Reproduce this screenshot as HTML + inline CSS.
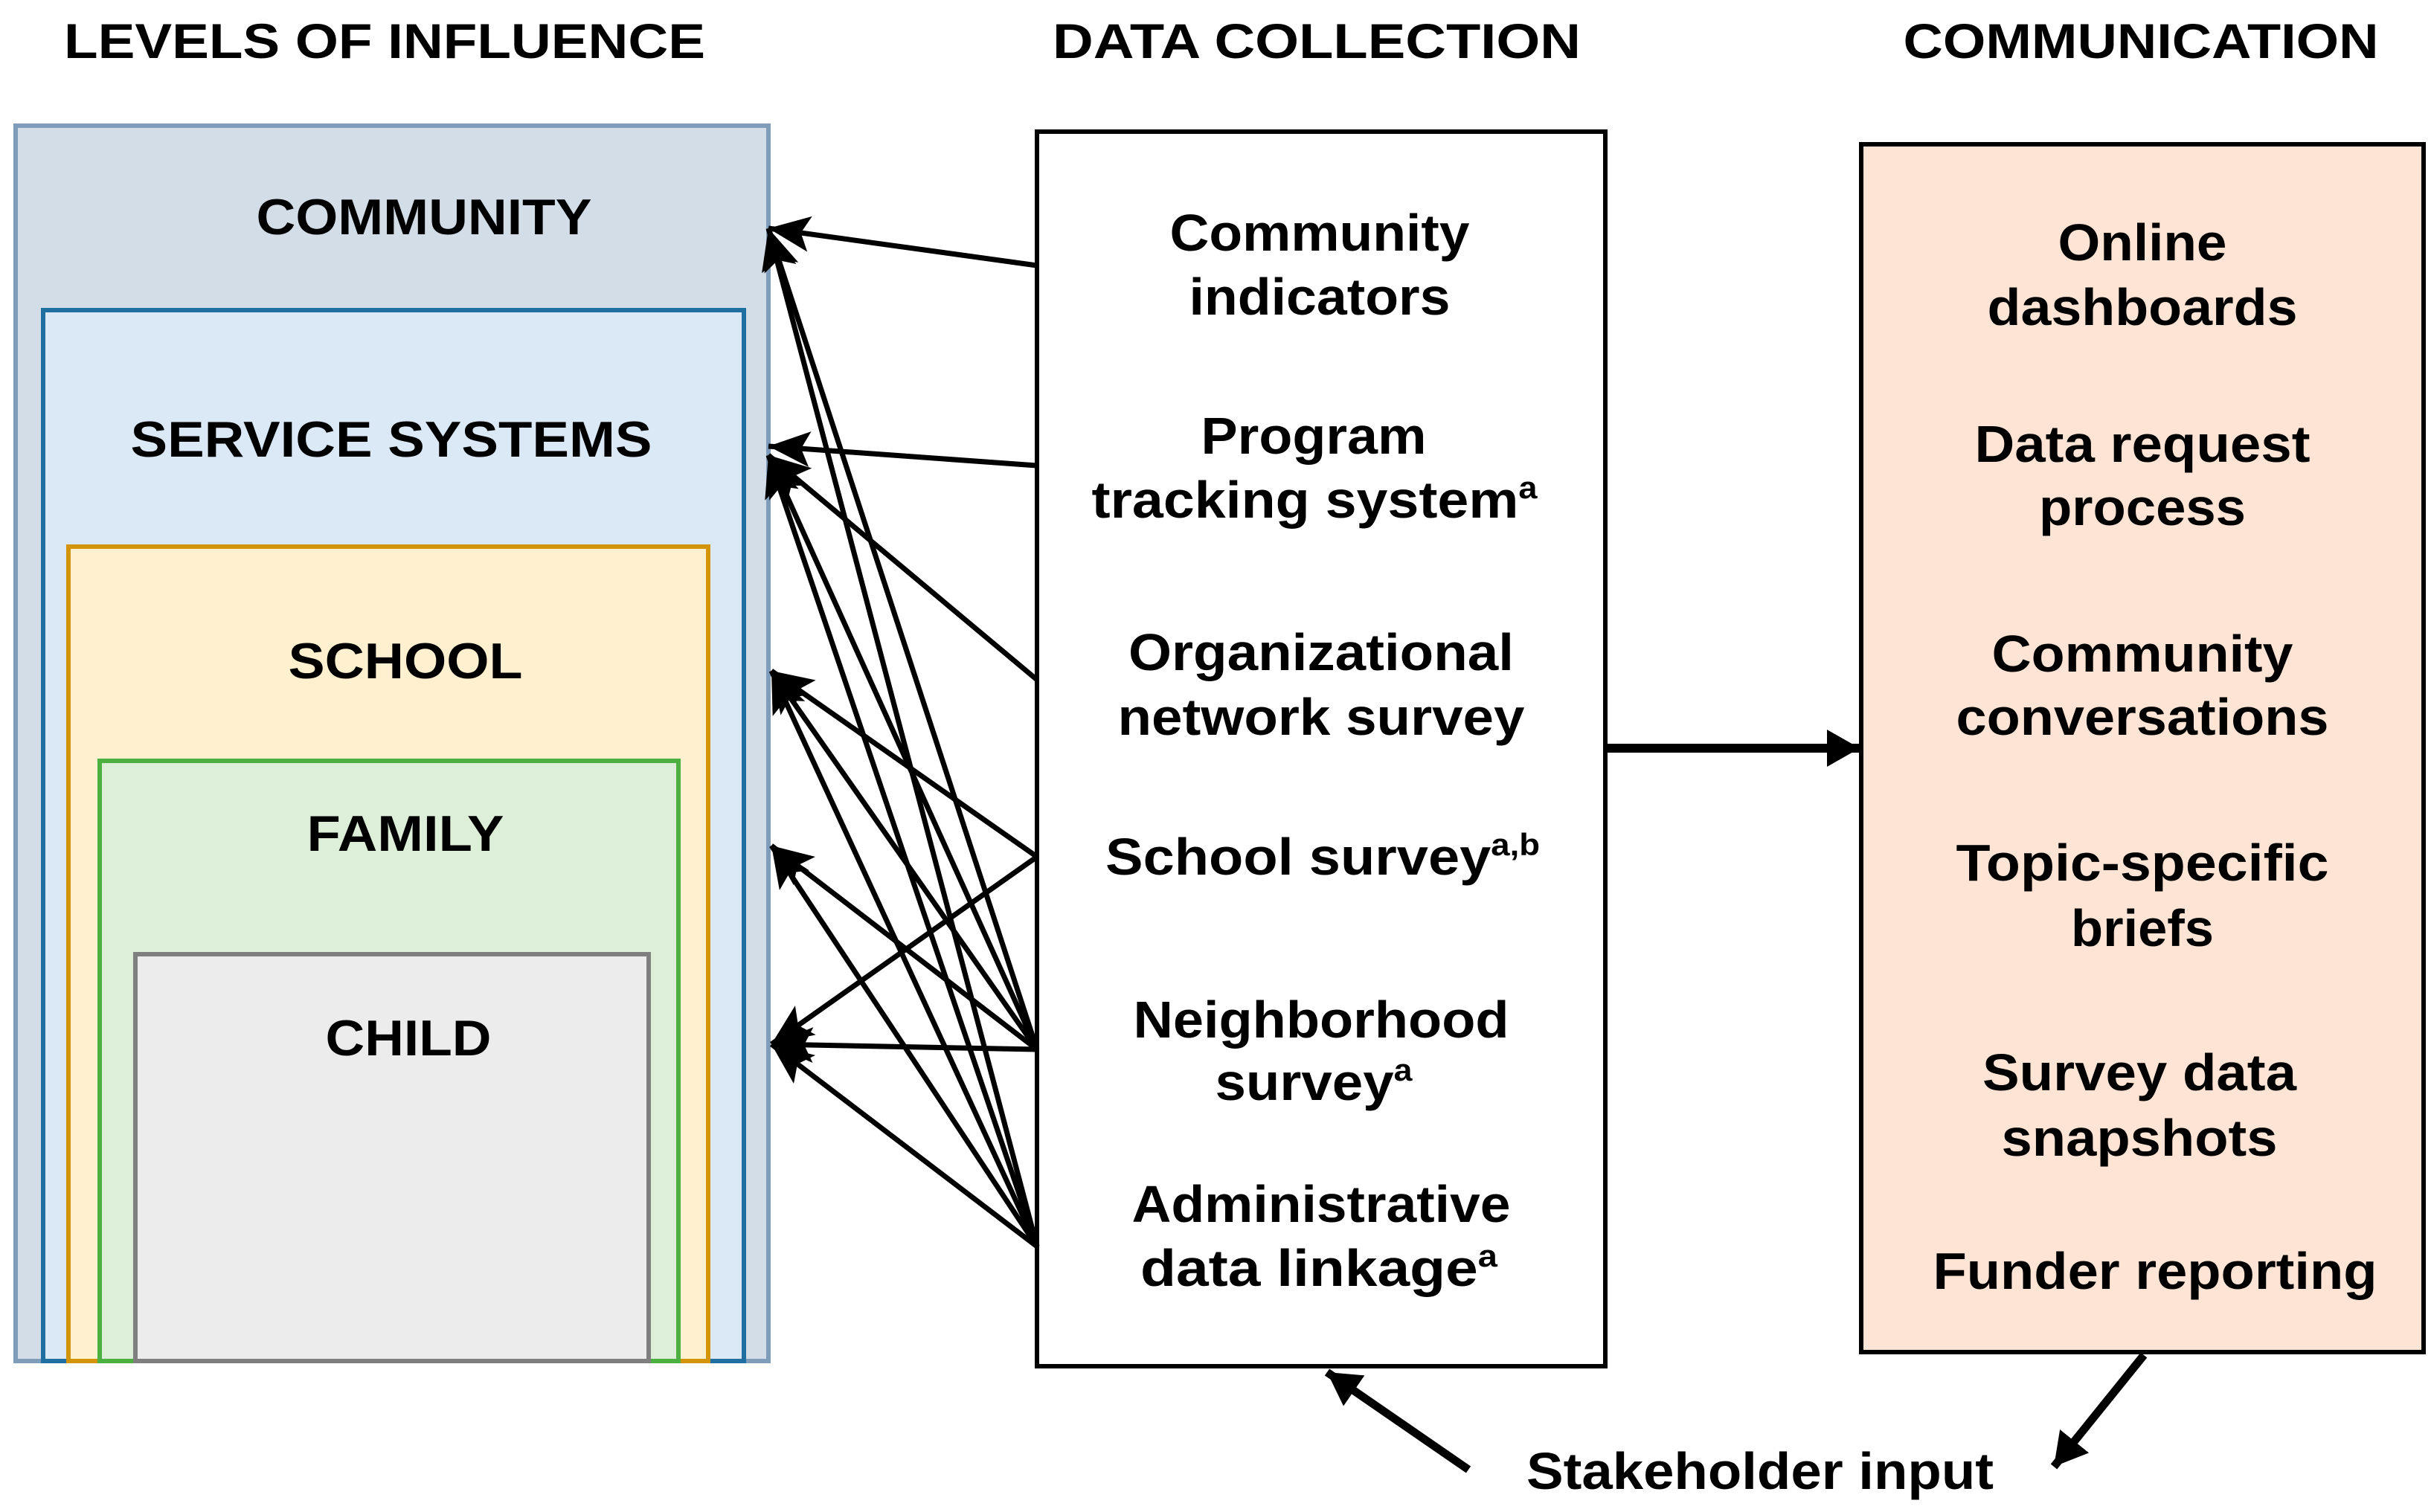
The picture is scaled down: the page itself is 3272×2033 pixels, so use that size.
<!DOCTYPE html>
<html><head><meta charset="utf-8"><style>
html,body{margin:0;padding:0;background:#fff;}
svg{display:block;}
text{font-family:"Liberation Sans",Arial,sans-serif;font-weight:bold;fill:#000;}
</style></head><body>
<svg width="3272" height="2033" viewBox="0 0 3272 2033" xmlns="http://www.w3.org/2000/svg">
<defs>
<marker id="ah" markerUnits="userSpaceOnUse" markerWidth="70" markerHeight="60" refX="56" refY="24" orient="auto">
<path d="M0,0 L56,24 L0,48 L12,24 Z" fill="#000"/>
</marker>
<marker id="ah2" markerUnits="userSpaceOnUse" markerWidth="60" markerHeight="60" refX="44" refY="25" orient="auto">
<path d="M0,0 L44,25 L0,50 Z" fill="#000"/>
</marker>
</defs>
<g text-anchor="middle" font-size="66">
<text x="517" y="78" textLength="862" lengthAdjust="spacingAndGlyphs">LEVELS OF INFLUENCE</text>
<text x="1770" y="78" textLength="710" lengthAdjust="spacingAndGlyphs">DATA COLLECTION</text>
<text x="2878" y="78" textLength="639" lengthAdjust="spacingAndGlyphs">COMMUNICATION</text>
</g>
<rect x="21" y="169" width="1012" height="1661" fill="#d3dde8" stroke="#7f9dbb" stroke-width="6"/>
<rect x="58" y="417" width="942" height="1413" fill="#dbe9f6" stroke="#1f6fa0" stroke-width="6"/>
<rect x="92" y="735" width="860" height="1095" fill="#fff1cf" stroke="#d4940a" stroke-width="6"/>
<rect x="134" y="1023" width="778" height="807" fill="#deefd9" stroke="#4cb040" stroke-width="6"/>
<rect x="182" y="1283" width="690" height="547" fill="#ececec" stroke="#7f7f7f" stroke-width="6"/>
<g text-anchor="middle" font-size="68">
<text x="570" y="315" textLength="451" lengthAdjust="spacingAndGlyphs">COMMUNITY</text>
<text x="526" y="614" textLength="701" lengthAdjust="spacingAndGlyphs">SERVICE SYSTEMS</text>
<text x="545" y="912" textLength="315" lengthAdjust="spacingAndGlyphs">SCHOOL</text>
<text x="545" y="1144" textLength="265" lengthAdjust="spacingAndGlyphs">FAMILY</text>
<text x="549" y="1419" textLength="223" lengthAdjust="spacingAndGlyphs">CHILD</text>
</g>
<rect x="1394" y="177" width="764" height="1660" fill="#fff" stroke="#000" stroke-width="6"/>
<g text-anchor="middle" font-size="70">
<text x="1774" y="337" textLength="403" lengthAdjust="spacingAndGlyphs">Community</text>
<text x="1774" y="423" textLength="351" lengthAdjust="spacingAndGlyphs">indicators</text>
<text x="1766" y="610" textLength="303" lengthAdjust="spacingAndGlyphs">Program</text>
<text x="1767" y="696" textLength="599" lengthAdjust="spacingAndGlyphs">tracking system<tspan font-size="42" dy="-26">a</tspan></text>
<text x="1776" y="901" textLength="518" lengthAdjust="spacingAndGlyphs">Organizational</text>
<text x="1776" y="988" textLength="547" lengthAdjust="spacingAndGlyphs">network survey</text>
<text x="1778" y="1176" textLength="584" lengthAdjust="spacingAndGlyphs">School survey<tspan font-size="42" dy="-26">a,b</tspan></text>
<text x="1776" y="1395" textLength="505" lengthAdjust="spacingAndGlyphs">Neighborhood</text>
<text x="1766" y="1479" textLength="265" lengthAdjust="spacingAndGlyphs">survey<tspan font-size="42" dy="-26">a</tspan></text>
<text x="1776" y="1643" textLength="509" lengthAdjust="spacingAndGlyphs">Administrative</text>
<text x="1773" y="1729" textLength="480" lengthAdjust="spacingAndGlyphs">data linkage<tspan font-size="42" dy="-26">a</tspan></text>
</g>
<rect x="2502" y="194" width="756" height="1624" fill="#fde4d4" stroke="#000" stroke-width="6"/>
<g text-anchor="middle" font-size="70">
<text x="2880" y="350" textLength="227" lengthAdjust="spacingAndGlyphs">Online</text>
<text x="2880" y="437" textLength="417" lengthAdjust="spacingAndGlyphs">dashboards</text>
<text x="2880" y="621" textLength="451" lengthAdjust="spacingAndGlyphs">Data request</text>
<text x="2880" y="706" textLength="278" lengthAdjust="spacingAndGlyphs">process</text>
<text x="2880" y="903" textLength="405" lengthAdjust="spacingAndGlyphs">Community</text>
<text x="2880" y="988" textLength="501" lengthAdjust="spacingAndGlyphs">conversations</text>
<text x="2880" y="1184" textLength="501" lengthAdjust="spacingAndGlyphs">Topic-specific</text>
<text x="2880" y="1272" textLength="192" lengthAdjust="spacingAndGlyphs">briefs</text>
<text x="2876" y="1466" textLength="422" lengthAdjust="spacingAndGlyphs">Survey data</text>
<text x="2876" y="1554" textLength="371" lengthAdjust="spacingAndGlyphs">snapshots</text>
<text x="2897" y="1733" textLength="597" lengthAdjust="spacingAndGlyphs">Funder reporting</text>
</g>
<g stroke="#000" stroke-width="7" fill="none" marker-end="url(#ah)">
<line x1="1394" y1="357" x2="1033" y2="307"/>
<line x1="1394" y1="626" x2="1033" y2="600"/>
<line x1="1394" y1="914" x2="1033" y2="612"/>
<line x1="1394" y1="1152" x2="1037" y2="902"/>
<line x1="1394" y1="1152" x2="1037" y2="1404"/>
<line x1="1394" y1="1411" x2="1033" y2="307"/>
<line x1="1394" y1="1411" x2="1033" y2="612"/>
<line x1="1394" y1="1411" x2="1037" y2="902"/>
<line x1="1394" y1="1411" x2="1037" y2="1137"/>
<line x1="1394" y1="1411" x2="1037" y2="1404"/>
<line x1="1394" y1="1676" x2="1033" y2="307"/>
<line x1="1394" y1="1676" x2="1033" y2="612"/>
<line x1="1394" y1="1676" x2="1037" y2="902"/>
<line x1="1394" y1="1676" x2="1037" y2="1137"/>
<line x1="1394" y1="1676" x2="1037" y2="1404"/>
</g>
<g stroke="#000" stroke-width="11" fill="none" marker-end="url(#ah2)">
<line x1="2158" y1="1006" x2="2500" y2="1006" stroke-width="12"/>
<line x1="1974" y1="1976" x2="1784" y2="1845"/>
<line x1="2882" y1="1822" x2="2761" y2="1972"/>
</g>
<text x="2366" y="2002" text-anchor="middle" font-size="70" textLength="628" lengthAdjust="spacingAndGlyphs">Stakeholder input</text>
</svg>
</body></html>
